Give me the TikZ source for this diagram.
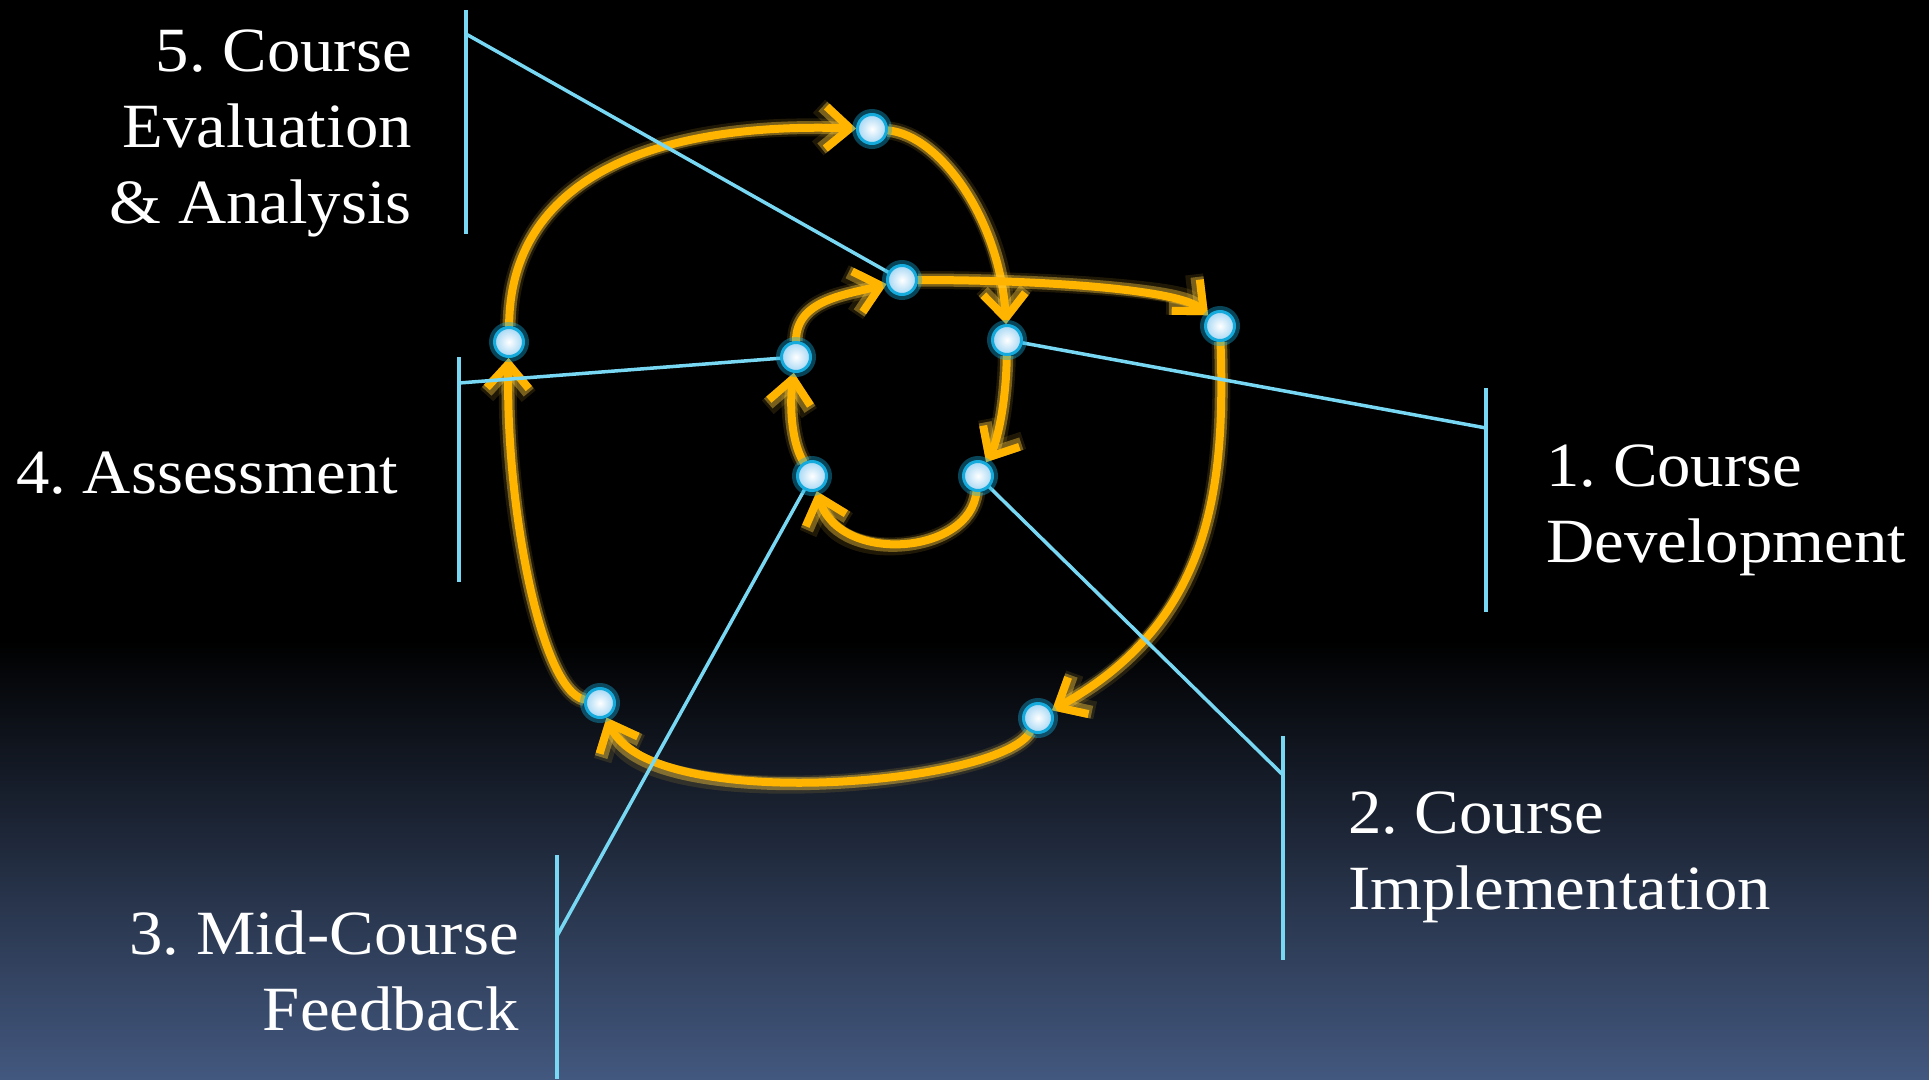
\documentclass[tikz,border=0pt]{standalone}
\usepackage{fontspec}
\setmainfont{Liberation Serif}[FakeStretch=1.06]
\frenchspacing
\usetikzlibrary{arrows.meta}
\definecolor{amber}{RGB}{255,180,0}
\definecolor{glowc}{RGB}{255,205,60}
\definecolor{leadc}{RGB}{120,216,244}
\definecolor{dotring}{RGB}{20,170,220}
\definecolor{dotfill}{RGB}{165,215,244}
\definecolor{bgbottom}{RGB}{67,88,127}
\pgfdeclarelayer{bgfill}
\pgfdeclarelayer{lines}
\pgfsetlayers{bgfill,lines,main}
\begin{document}
\begin{tikzpicture}[x=1pt,y=-1pt,
  flow/.style={draw=amber, line width=8pt, line cap=round, line join=round,
    -{Straight Barb[length=24pt,width=42pt]},
    preaction={draw=glowc, line width=18pt, opacity=0.12},
    preaction={draw=glowc, line width=13pt, opacity=0.4}},
  leadline/.style={draw=leadc, line width=3.5pt},
  dot/.style={circle, minimum size=29pt, inner sep=0pt, draw=dotring, line width=3pt,
    inner color=white, outer color=dotfill,
    preaction={draw=dotring, line width=11pt, opacity=0.4}},
  lbl/.style={text=white, font=\fontsize{63}{76}\selectfont, inner sep=0pt}]
\useasboundingbox (0,0) rectangle (1929,1079);
\begin{pgfonlayer}{bgfill}
  \fill[black] (0,0) rectangle (1929,1079);
  \shade[top color=black, bottom color=bgbottom] (0,640) rectangle (1929,1079);
\end{pgfonlayer}
% dots
\node[dot] (A) at (872,129) {};
\node[dot] (B) at (902,280) {};
\node[dot] (C) at (1007,340) {};
\node[dot] (D) at (1220,326) {};
\node[dot] (E) at (509,342) {};
\node[dot] (F) at (796,357) {};
\node[dot] (G) at (812,476) {};
\node[dot] (H) at (978,476) {};
\node[dot] (I) at (600,703) {};
\node[dot] (J) at (1038,718) {};
% labels (base anchor = baseline of last line)
\node[lbl, align=right, anchor=base east] (L5) at (412,223) {5. Course\\Evaluation\\\& Analysis};
\node[lbl, anchor=base west] (L4) at (16,493) {4. Assessment};
\node[lbl, align=left, anchor=base west] (L1) at (1546,562) {1. Course\\Development};
\node[lbl, align=left, anchor=base west] (L2) at (1348,909) {2. Course\\Implementation};
\node[lbl, align=right, anchor=base east] (L3) at (519,1030) {3. Mid-Course\\Feedback};
% bar coordinates
\coordinate (b5t) at (466,10);  \coordinate (b5b) at (466,234);  \coordinate (b5j) at (466,34);
\coordinate (b4t) at (459,357); \coordinate (b4b) at (459,582);  \coordinate (b4j) at (459,383);
\coordinate (b1t) at (1486,388);\coordinate (b1b) at (1486,612); \coordinate (b1j) at (1486,428);
\coordinate (b2t) at (1283,736);\coordinate (b2b) at (1283,960); \coordinate (b2j) at (1283,775);
\coordinate (b3t) at (557,855); \coordinate (b3b) at (557,1079); \coordinate (b3j) at (557,936);
\begin{pgfonlayer}{lines}
  \draw[flow] (D) .. controls (1225,480) and (1215,620) .. (J);
  \draw[flow] (J) .. controls (1000,785) and (650,815) .. (I);
  \draw[flow] (I) .. controls (540,690) and (505,500) .. (E);
  \draw[flow] (E) .. controls (510,180) and (650,122) .. (A);
  \draw[flow] (A) .. controls (940,135) and (1000,220) .. (C);
  \draw[flow] (C) .. controls (1006,410) and (995,447) .. (H);
  \draw[flow] (H) .. controls (970,555) and (840,565) .. (G);
  \draw[flow] (G) .. controls (790,440) and (790,400) .. (F);
  \draw[flow] (F) .. controls (796,300) and (845,295) .. (B);
  \draw[flow] (B) .. controls (1050,280) and (1180,290) .. (D);
  \draw[leadline] (b5t) -- (b5b);
  \draw[leadline] (b5j) -- (B.center);
  \draw[leadline] (b4t) -- (b4b);
  \draw[leadline] (b4j) -- (F.center);
  \draw[leadline] (b1t) -- (b1b);
  \draw[leadline] (b1j) -- (C.center);
  \draw[leadline] (b2t) -- (b2b);
  \draw[leadline] (b2j) -- (H.center);
  \draw[leadline] (b3t) -- (b3b);
  \draw[leadline] (b3j) -- (G.center);
\end{pgfonlayer}
\end{tikzpicture}
\end{document}
